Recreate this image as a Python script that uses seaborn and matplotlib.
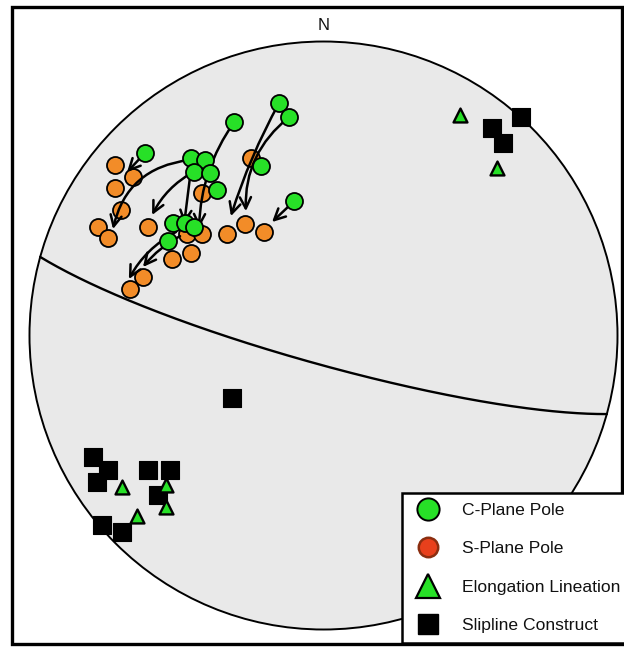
import numpy as np
import matplotlib
matplotlib.use("Agg")
import matplotlib.pyplot as plt
import seaborn as sns
from matplotlib.patches import Circle, Rectangle
from matplotlib.lines import Line2D

# Positions on the lower-hemisphere equal-area net (unit radius, x = east, y = north)
c_pole_x = [-0.304, -0.151, -0.117, -0.607, -0.451, -0.403, -0.440, -0.386,
            -0.213, -0.362, -0.100, -0.512, -0.471, -0.440, -0.529]
c_pole_y = [0.726, 0.791, 0.743, 0.621, 0.604, 0.597, 0.556, 0.553,
            0.577, 0.495, 0.457, 0.383, 0.383, 0.369, 0.321]

s_pole_x = [-0.709, -0.648, -0.709, -0.689, -0.767, -0.733, -0.597, -0.413, -0.247,
            -0.464, -0.413, -0.515, -0.451, -0.328, -0.267, -0.202, -0.614, -0.658]
s_pole_y = [0.580, 0.539, 0.502, 0.427, 0.369, 0.332, 0.369, 0.485, 0.604,
            0.345, 0.345, 0.260, 0.281, 0.345, 0.379, 0.352, 0.199, 0.158]

lineation_x = [0.464, 0.590, -0.685, -0.536, -0.536, -0.634]
lineation_y = [0.750, 0.570, -0.515, -0.509, -0.583, -0.614]

slipline_x = [0.672, 0.573, 0.611, -0.311, -0.784, -0.733, -0.770, -0.597,
              -0.522, -0.563, -0.753, -0.685]
slipline_y = [0.743, 0.706, 0.655, -0.213, -0.413, -0.457, -0.498, -0.457,
              -0.457, -0.543, -0.645, -0.668]

# C-plane to S-plane rotation paths (tail -> head) and their curvature
arrow_tail_x = [-0.607, -0.457, -0.444, -0.304, -0.151, -0.117, -0.100, -0.451, -0.502, -0.488]
arrow_tail_y = [0.621, 0.597, 0.556, 0.726, 0.791, 0.743, 0.457, 0.563, 0.352, 0.338]
arrow_head_x = [-0.668, -0.716, -0.583, -0.423, -0.315, -0.264, -0.175, -0.474, -0.662, -0.614]
arrow_head_y = [0.556, 0.362, 0.410, 0.366, 0.406, 0.423, 0.386, 0.379, 0.192, 0.233]
arrow_bend = [0.0, 0.35, 0.15, 0.15, 0.05, 0.25, 0.0, 0.0, 0.15, 0.1]

# Shear-zone boundary plane
plane_strike = 105.5
plane_dip = 82.0

legend_labels = ["C-Plane Pole", "S-Plane Pole", "Elongation Lineation", "Slipline Construct"]

GREEN = "#27e027"
ORANGE = "#f28c28"


def great_circle(strike, dip, n=300):
    s = np.radians(strike)
    d = np.radians(dip)
    dd = s + np.pi / 2
    r = np.linspace(0, np.pi, n)
    sv = np.array([np.cos(s), np.sin(s), 0.0])
    dv = np.array([np.cos(d) * np.cos(dd), np.cos(d) * np.sin(dd), np.sin(d)])
    v = np.outer(np.cos(r), sv) + np.outer(np.sin(r), dv)
    plunge = np.arcsin(np.clip(v[:, 2], -1, 1))
    trend = np.arctan2(v[:, 1], v[:, 0])
    rho = np.sqrt(2) * np.sin(np.pi / 4 - plunge / 2)
    return rho * np.sin(trend), rho * np.cos(trend)


sns.set_theme(style="white")
plt.rcParams["font.family"] = ["Liberation Sans", "DejaVu Sans"]

fig = plt.figure(figsize=(6.24, 6.48), dpi=100)
ax = fig.add_axes([0, 0, 1, 1])
ax.set_xlim(-1.1003, 1.0221)
ax.set_ylim(-1.0629, 1.1412)
ax.axis("off")

# outer frame
ax.add_patch(Rectangle((12 / 624, 1 - 644 / 648), (622 - 12) / 624, (644 - 7) / 648,
                       transform=ax.transAxes, fill=False, ec="black", lw=2.4,
                       clip_on=False, zorder=10))

# primitive circle
ax.add_patch(Circle((0, 0), 1.0, fc="#e9e9e9", ec="black", lw=1.4, zorder=0))
ax.text(0, 1.056, "N", ha="center", va="center", fontsize=12, color="#111111")

gx, gy = great_circle(plane_strike, plane_dip)
ax.plot(gx, gy, color="black", lw=1.7, zorder=1)

# S-plane poles
sns.scatterplot(x=s_pole_x, y=s_pole_y, marker="o", s=150, color=ORANGE,
                edgecolor="black", linewidth=1.3, zorder=3, ax=ax, legend=False)

# rotation arrows
for tx, ty, hx, hy, b in zip(arrow_tail_x, arrow_tail_y, arrow_head_x, arrow_head_y, arrow_bend):
    ax.annotate("", xy=(hx, hy), xytext=(tx, ty),
                arrowprops=dict(arrowstyle="->", lw=1.8, color="black",
                                connectionstyle=f"arc3,rad={b}",
                                shrinkA=0, shrinkB=0, mutation_scale=20),
                zorder=4)

# C-plane poles
sns.scatterplot(x=c_pole_x, y=c_pole_y, marker="o", s=150, color=GREEN,
                edgecolor="black", linewidth=1.3, zorder=5, ax=ax, legend=False)

# slipline constructs and elongation lineations
sns.scatterplot(x=slipline_x, y=slipline_y, marker="s", s=150, color="black",
                edgecolor="black", linewidth=0.8, zorder=5, ax=ax, legend=False)
sns.scatterplot(x=lineation_x, y=lineation_y, marker="^", s=100, color=GREEN,
                edgecolor="black", linewidth=1.7, zorder=6, ax=ax, legend=False)

handles = [
    Line2D([], [], ls="", marker="o", ms=16, mfc=GREEN, mec="black", mew=1.4),
    Line2D([], [], ls="", marker="o", ms=14, mfc="#e8401c", mec="#8b2e10", mew=1.8),
    Line2D([], [], ls="", marker="^", ms=17, mfc=GREEN, mec="black", mew=1.6),
    Line2D([], [], ls="", marker="s", ms=14, mfc="black", mec="black"),
]
leg = ax.legend(handles, legend_labels, loc="upper left",
                bbox_to_anchor=(402 / 624, 1 - 493 / 648), borderaxespad=0,
                frameon=True, fancybox=False, edgecolor="black", framealpha=1,
                fontsize=12.6, handlelength=1.85, handletextpad=1.05,
                labelspacing=1.33, borderpad=0.55)
leg.get_frame().set_linewidth(1.8)
leg.set_zorder(11)
for t in leg.get_texts():
    t.set_color("#111111")

fig.savefig("out.png", dpi=100)
